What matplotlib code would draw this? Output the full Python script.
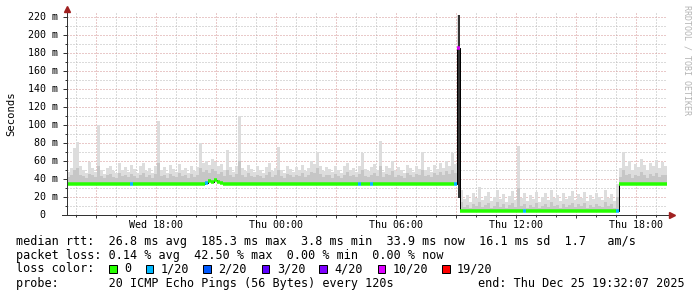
import numpy as np
import matplotlib.pyplot as plt
from matplotlib.collections import LineCollection
from matplotlib.patches import Rectangle
from matplotlib.ticker import MultipleLocator

# время: часы от Wed 00:00, шаг 9 минут, конец Thu 19:32:07
t_end = 24 + 19 + 32 / 60 + 7 / 3600
step_h = 0.15
n_steps = 200

# верх "дыма" (макс. пинг), ms
smoke_top = [
    48, 52, 75, 81, 55, 50, 47, 59, 52, 48,
    100, 50, 46, 52, 55, 49, 47, 58, 50, 53,
    48, 56, 51, 47, 54, 58, 49, 52, 47, 55,
    105, 50, 53, 47, 56, 51, 48, 57, 50, 52,
    47, 55, 49, 53, 80, 58, 60, 56, 62, 59,
    55, 57, 50, 72, 53, 48, 55, 110, 52, 49,
    56, 51, 48, 54, 50, 47, 53, 58, 49, 52,
    76, 50, 47, 55, 51, 48, 53, 50, 56, 49,
    52, 60, 57, 70, 55, 49, 53, 51, 48, 55,
    50, 47, 54, 58, 50, 52, 48, 55, 69, 51,
    49, 53, 57, 50, 82, 48, 54, 52, 60, 49,
    53, 50, 47, 56, 52, 48, 55, 51, 70, 50,
    53, 48, 56, 51, 58, 52, 60, 55, 69, 57,
    222,
    28, 18, 22, 15, 25, 19, 31, 17, 21, 26,
    16, 20, 28, 18, 23, 15, 21, 27, 17, 77,
    19, 24, 16, 22, 18, 26, 15, 20, 24, 17,
    28, 19, 22, 16, 25, 18, 21, 27, 17, 23,
    19, 26, 16, 22, 18, 25, 20, 17, 28, 19,
    23, 16, 35,
    52, 70, 55, 60, 50, 57, 53, 62, 56, 50, 58, 54, 61, 52, 59, 55,
]

# более плотная часть дыма, ms
smoke_mid = [
    42, 44, 50, 52, 45, 43, 41, 46, 44, 42,
    55, 43, 41, 44, 46, 42, 41, 47, 43, 44,
    42, 46, 43, 41, 45, 47, 42, 44, 41, 46,
    58, 43, 45, 41, 46, 43, 42, 47, 43, 44,
    41, 46, 42, 45, 52, 48, 50, 47, 51, 49,
    46, 48, 43, 50, 45, 42, 46, 60, 44, 42,
    47, 43, 42, 45, 43, 41, 45, 48, 42, 44,
    50, 43, 41, 46, 44, 42, 45, 43, 47, 42,
    44, 48, 47, 52, 46, 42, 45, 44, 41, 46,
    43, 41, 45, 48, 43, 44, 42, 46, 50, 43,
    42, 45, 47, 43, 54, 42, 46, 44, 49, 42,
    45, 43, 41, 47, 44, 42, 46, 44, 50, 43,
    45, 42, 47, 44, 48, 45, 49, 46, 50, 47,
    100,
    14, 9, 11, 8, 12, 10, 15, 9, 11, 13,
    8, 10, 14, 9, 12, 8, 11, 13, 9, 30,
    10, 12, 8, 11, 9, 13, 8, 10, 12, 9,
    14, 10, 11, 8, 12, 9, 11, 13, 9, 12,
    10, 13, 8, 11, 9, 12, 10, 9, 14, 10,
    12, 8, 20,
    42, 50, 44, 46, 41, 45, 43, 48, 44, 41, 46, 43, 47, 42, 45, 44,
]

# медиана, ms
median = ([34.5] * 46 + [36, 38, 37, 39, 37, 36] + [34.5] * 78
          + [185] + [4] * 53 + [34] * 16)

# потери (из 20) по индексам шагов, остальное 0
loss_idx = [21, 46, 97, 101, 129, 130, 152, 183]
loss_val = [1, 1, 1, 1, 1, 10, 1, 1]

# тёмный столбец во время всплеска
dark_idx = [130]
dark_low = [19]
dark_high = [222]

loss_colors = {0: '#26ff00', 1: '#00b8ff', 2: '#0059ff', 3: '#5e00ff',
               4: '#7e00ff', 10: '#dd00ff', 19: '#ff0000'}
legend_loss = [0, 1, 2, 3, 4, 10, 19]

x_labels = {18: 'Wed 18:00', 24: 'Thu 00:00', 30: 'Thu 06:00',
            36: 'Thu 12:00', 42: 'Thu 18:00'}

mono = 'DejaVu Sans Mono'
px = 72 / 100

fig = plt.figure(figsize=(6.97, 2.97), dpi=100)
fig.patch.set_facecolor('white')
W, H = 697, 297
ax = fig.add_axes([67 / W, (H - 215) / H, 600 / W, 202 / H])

t0 = t_end - n_steps * step_h
t = t0 + step_h * np.arange(n_steps + 1)
med = np.array(median, dtype=float)
top = np.array(smoke_top, dtype=float)
mid = np.array(smoke_mid, dtype=float)

ax.set_xlim(t0, t_end)
ax.set_ylim(0, 202 / 0.9)

# сетка (точками)
ax.xaxis.set_major_locator(MultipleLocator(3))
ax.xaxis.set_minor_locator(MultipleLocator(1))
ax.yaxis.set_major_locator(MultipleLocator(20))
ax.yaxis.set_minor_locator(MultipleLocator(10))
ax.grid(which='minor', color='#b8b8b8', linestyle=(0, (1, 2)), lw=px,
        zorder=0)
ax.grid(which='major', color='#d49494', linestyle=(0, (1, 2)), lw=px,
        zorder=0)
ax.set_axisbelow(True)

# дым
ax.fill_between(t, med.tolist() + [med[-1]], top.tolist() + [top[-1]],
                step='post', color='#dddddd', lw=0, zorder=2)
ax.fill_between(t, med.tolist() + [med[-1]], mid.tolist() + [mid[-1]],
                step='post', color='#c6c6c6', lw=0, zorder=3)
for i, lo, hi in zip(dark_idx, dark_low, dark_high):
    ax.fill_between([t[i] + 0.03, t[i + 1]], [lo, lo], [hi, hi],
                    color='#333333', lw=0, zorder=4)

# медиана
ax.step(t, med.tolist() + [med[-1]], where='post', color='black',
        lw=px, zorder=5)
loss = [0] * n_steps
for i, v in zip(loss_idx, loss_val):
    loss[i] = v
segs = [[(t[i], med[i]), (t[i + 1], med[i])] for i in range(n_steps)]
lc = LineCollection(segs, colors=[loss_colors[v] for v in loss],
                    linewidths=3.5 * px, capstyle='butt', zorder=6)
ax.add_collection(lc)

# оси и стрелки
for s in ax.spines.values():
    s.set_visible(False)
ax.plot([t0, t0], [0, 228], color='#333333', lw=px, clip_on=False, zorder=7)
ax.plot([t0 - 0.25, t_end + 0.2], [0, 0], color='#333333', lw=px,
        clip_on=False, zorder=7)
ax.plot([t0], [229], marker='^', ms=4, color='#a02020', clip_on=False,
        zorder=8, mec='#a02020')
ax.plot([t_end + 0.25], [0], marker='>', ms=4, color='#a02020',
        clip_on=False, zorder=8, mec='#a02020')

ax.tick_params(which='both', direction='out', color='#333333', width=px)
ax.tick_params(axis='x', which='major', length=3 * px, pad=2 * px)
ax.tick_params(axis='x', which='minor', length=2 * px)
ax.tick_params(axis='y', which='major', length=4 * px, pad=6 * px)
ax.tick_params(axis='y', which='minor', length=2 * px)
ax.set_xticklabels([])
ax.set_yticklabels([])
for h, lab in x_labels.items():
    ax.text(h, -5.5, lab, ha='center', va='top', family=mono, fontsize=7.2)
for v in range(0, 221, 20):
    lab = '%d m' % v if v else '0  '
    ax.text(t0 - 0.45, v, lab, ha='right', va='center', family=mono,
            fontsize=7.2)

fig.text(11 / W, 1 - 114 / H, 'Seconds', rotation=90, ha='center',
         va='center', family=mono, fontsize=7.6)
fig.text(687 / W, 1 - 5 / H, 'RRDTOOL / TOBI OETIKER', rotation=270,
         ha='center', va='top', family=mono, fontsize=6, color='#b4b4b4')

# легенда
fs = 8.5
fig.text(16.5 / W, 1 - 241.5 / H,
         'median rtt:  26.8 ms avg  185.3 ms max  3.8 ms min  33.9 ms now'
         '  16.1 ms sd  1.7   am/s', va='center', family=mono, fontsize=fs)
fig.text(16.5 / W, 1 - 255 / H,
         'packet loss: 0.14 % avg  42.50 % max  0.00 % min  0.00 % now',
         va='center', family=mono, fontsize=fs)
fig.text(16.5 / W, 1 - 269 / H, 'loss color:', va='center', family=mono,
         fontsize=fs)
box_x = [109, 145.7, 203, 261.7, 319, 377.7, 442]
for bx, v in zip(box_x, legend_loss):
    fig.patches.append(Rectangle((bx / W, 1 - 273 / H), 7.5 / W, 8 / H,
                                 transform=fig.transFigure, facecolor=loss_colors[v],
                                 edgecolor='black', lw=px))
    lab = '0' if v == 0 else '%d/20' % v
    fig.text((bx + 15) / W, 1 - 269 / H, lab, va='center', family=mono,
             fontsize=fs)
fig.text(16.5 / W, 1 - 283.3 / H,
         'probe:       20 ICMP Echo Pings (56 Bytes) every 120s',
         va='center', family=mono, fontsize=fs)
fig.text(478 / W, 1 - 283.3 / H, 'end: Thu Dec 25 19:32:07 2025',
         va='center', family=mono, fontsize=fs)

fig.savefig('out.png', dpi=100)
